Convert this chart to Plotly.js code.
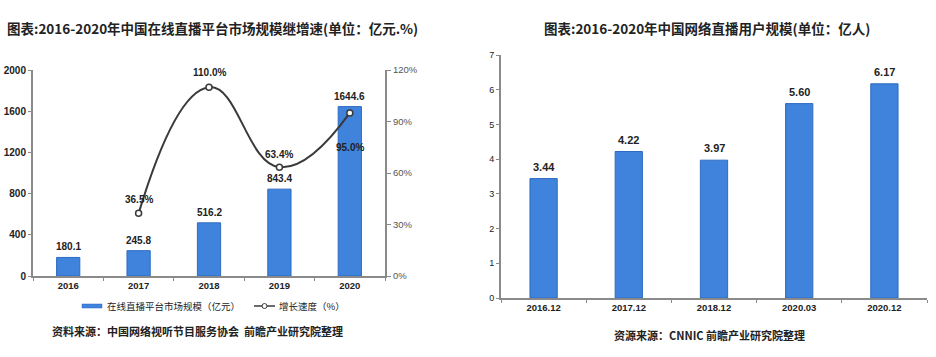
<!DOCTYPE html>
<html><head><meta charset="utf-8">
<script src="https://cdn.plot.ly/plotly-3.0.1.min.js"></script>
<style>html,body{margin:0;padding:0;background:#fff;}#chart{width:936px;height:357px;}</style>
</head><body><div id="chart"></div>
<script>
// ---- data ----
const years = ['2016', '2017', '2018', '2019', '2020'];
const marketSize = [180.1, 245.8, 516.2, 843.4, 1644.6];
const growthYears = ['2017', '2018', '2019', '2020'];
const growthRate = [36.5, 110.0, 63.4, 95.0];
const userPeriods = ['2016.12', '2017.12', '2018.12', '2020.03', '2020.12'];
const userCount = [3.44, 4.22, 3.97, 5.60, 6.17];
const leftTicks = [0, 400, 800, 1200, 1600, 2000];
const rateTicks = [0, 30, 60, 90, 120];
const rateTickText = ['0%', '30%', '60%', '90%', '120%'];
const leftTitle = '图表:2016-2020年中国在线直播平台市场规模继增速(单位：亿元.%)';
const rightTitle = '图表:2016-2020年中国网络直播用户规模(单位：亿人)';
const leftSource = '资料来源：中国网络视听节目服务协会  前瞻产业研究院整理';
const rightSource = '资源来源：CNNIC 前瞻产业研究院整理';
const legendNames = ['在线直播平台市场规模（亿元）', '增长速度（%）'];

// ---- helpers ----
const W = 936, H = 357;
const px = x => x / W;
const py = y => 1 - y / H;
const CJK = 'Noto Sans CJK SC, Noto Sans, sans-serif';
const NUM = 'Liberation Sans, Arial, sans-serif';
const BLUE = '#3f83dc', BLUE_EDGE = '#2d6bc2';
const AXIS = '#8a8a8a';

const traces = [
  {type: 'bar', x: years, y: marketSize, xaxis: 'x', yaxis: 'y', width: 0.33,
   marker: {color: BLUE, line: {color: BLUE_EDGE, width: 1}}, showlegend: false, hoverinfo: 'skip'},
  {type: 'scatter', mode: 'lines+markers', x: growthYears, y: growthRate, xaxis: 'x', yaxis: 'y2',
   line: {color: '#3a3a3a', width: 2, shape: 'spline', smoothing: 1.3},
   marker: {size: 6, color: '#ffffff', line: {color: '#3a3a3a', width: 1.5}}, showlegend: false, hoverinfo: 'skip'},
  {type: 'bar', x: userPeriods, y: userCount, xaxis: 'x2', yaxis: 'y3', width: 0.32,
   marker: {color: BLUE, line: {color: BLUE_EDGE, width: 1}}, showlegend: false, hoverinfo: 'skip'}
];

const annotations = [];
// bar value labels (left) - x given as category index
years.forEach((c, i) => annotations.push({x: i, y: marketSize[i], xref: 'x', yref: 'y', text: marketSize[i].toFixed(1),
  showarrow: false, yanchor: 'bottom', yshift: 3, font: {family: NUM, size: 10, color: '#222', weight: 'bold'}}));
// growth labels
const growthShift = [14, 15, 13, -35];
growthYears.forEach((c, i) => annotations.push({x: years.indexOf(c), y: growthRate[i], xref: 'x', yref: 'y2',
  text: growthRate[i].toFixed(1) + '%',
  showarrow: false, yanchor: 'middle', yshift: growthShift[i], font: {family: NUM, size: 10, color: '#222', weight: 'bold'}}));
// bar value labels (right)
userPeriods.forEach((c, i) => annotations.push({x: i, y: userCount[i], xref: 'x2', yref: 'y3', text: userCount[i].toFixed(2),
  showarrow: false, yanchor: 'bottom', yshift: 4, font: {family: NUM, size: 11, color: '#222', weight: 'bold'}}));
// titles & sources
annotations.push({xref: 'paper', yref: 'paper', x: px(212), y: py(28), text: leftTitle, showarrow: false,
  xanchor: 'center', yanchor: 'middle', font: {family: CJK, size: 13.5, color: '#222', weight: 'bold'}});
annotations.push({xref: 'paper', yref: 'paper', x: px(707), y: py(28), text: rightTitle, showarrow: false,
  xanchor: 'center', yanchor: 'middle', font: {family: CJK, size: 13.5, color: '#222', weight: 'bold'}});
annotations.push({xref: 'paper', yref: 'paper', x: px(197), y: py(331), text: leftSource, showarrow: false,
  xanchor: 'center', yanchor: 'middle', font: {family: CJK, size: 11, color: '#222', weight: 'bold'}});
annotations.push({xref: 'paper', yref: 'paper', x: px(709), y: py(335), text: rightSource, showarrow: false,
  xanchor: 'center', yanchor: 'middle', font: {family: CJK, size: 11, color: '#222', weight: 'bold'}});
// legend texts
annotations.push({xref: 'paper', yref: 'paper', x: px(105), y: py(306), text: legendNames[0], showarrow: false,
  xanchor: 'left', yanchor: 'middle', font: {family: CJK, size: 9.5, color: '#222'}});
annotations.push({xref: 'paper', yref: 'paper', x: px(277), y: py(306), text: legendNames[1], showarrow: false,
  xanchor: 'left', yanchor: 'middle', font: {family: CJK, size: 9.5, color: '#222'}});

const shapes = [
  {type: 'rect', xref: 'paper', yref: 'paper', x0: px(82), x1: px(102), y0: py(308), y1: py(304),
   fillcolor: BLUE, line: {color: BLUE_EDGE, width: 0.5}},
  {type: 'line', xref: 'paper', yref: 'paper', x0: px(254), x1: px(275), y0: py(306), y1: py(306),
   line: {color: '#3a3a3a', width: 1.5}},
  {type: 'circle', xref: 'paper', yref: 'paper', x0: px(262), x1: px(267), y0: py(308.5), y1: py(303.5),
   fillcolor: '#fff', line: {color: '#3a3a3a', width: 1}}
];

const xCommon = {type: 'category', range: [-0.5, 4.5], autorange: false, showgrid: false, zeroline: false,
  showline: true, linecolor: AXIS, linewidth: 2,
  ticks: 'outside', tickson: 'boundaries', ticklen: 3, tickcolor: AXIS, fixedrange: true};

const layout = {
  width: W, height: H, margin: {l: 0, r: 0, t: 0, b: 0},
  paper_bgcolor: '#fff', plot_bgcolor: '#fff', showlegend: false, bargap: 0,
  xaxis: Object.assign({}, xCommon, {domain: [px(33), px(385)], anchor: 'y',
    categoryorder: 'array', categoryarray: years,
    tickfont: {family: NUM, size: 9.5, color: '#222', weight: 'bold'}}),
  yaxis: {domain: [py(276), py(70)], anchor: 'x', range: [0, 2000], autorange: false, tickmode: 'array', tickvals: leftTicks,
    showgrid: false, zeroline: false, showline: true, linecolor: AXIS, linewidth: 2, ticks: 'outside', ticklen: 3,
    tickcolor: AXIS, tickfont: {family: NUM, size: 10, color: '#222', weight: 'bold'}},
  yaxis2: {overlaying: 'y', side: 'right', anchor: 'x', range: [0, 120], autorange: false,
    tickmode: 'array', tickvals: rateTicks, ticktext: rateTickText,
    showgrid: false, zeroline: false, showline: true, linecolor: AXIS, linewidth: 2, ticks: 'outside', ticklen: 4,
    tickcolor: AXIS, tickfont: {family: NUM, size: 9.5, color: '#555'}},
  xaxis2: Object.assign({}, xCommon, {domain: [px(501), px(927)], anchor: 'y3',
    categoryorder: 'array', categoryarray: userPeriods,
    tickfont: {family: NUM, size: 9.5, color: '#222', weight: 'bold'}}),
  yaxis3: {domain: [py(298), py(55)], anchor: 'x2', range: [0, 7], autorange: false, dtick: 1,
    showgrid: false, zeroline: false, showline: true, linecolor: AXIS, linewidth: 2, ticks: 'outside', ticklen: 3,
    tickcolor: AXIS, tickfont: {family: NUM, size: 9, color: '#222'}},
  annotations: annotations, shapes: shapes
};

Plotly.newPlot('chart', traces, layout, {staticPlot: true, displayModeBar: false});
</script>
</body></html>
